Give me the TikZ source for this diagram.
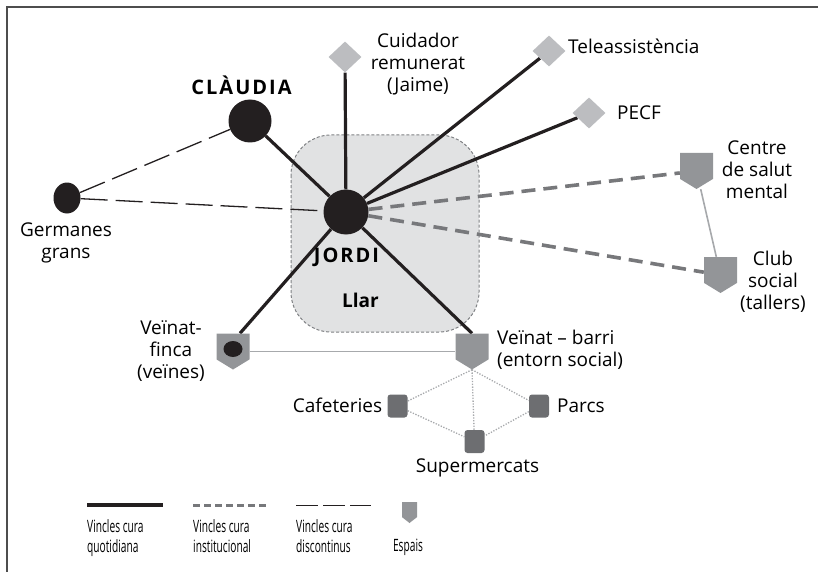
\documentclass[tikz,border=0pt]{standalone}
\usepackage{fontspec}
\setmainfont{Open Sans}
\newfontfamily\legendfont[FakeStretch=0.6]{Open Sans}
\newfontfamily\namefont[LetterSpace=10]{Open Sans}
\usetikzlibrary{shapes.geometric,calc}
\pgfdeclarelayer{bg}
\pgfdeclarelayer{links}
\pgfsetlayers{bg,links,main}

\definecolor{framegray}{HTML}{4D4D4D}
\definecolor{svcgray}{HTML}{BCBDC0}
\definecolor{espaigray}{HTML}{939598}
\definecolor{loccgray}{HTML}{6D6E71}
\definecolor{llarfill}{HTML}{E1E2E3}
\definecolor{llarline}{HTML}{808285}
\definecolor{instgray}{HTML}{77787B}
\definecolor{thingray}{HTML}{A7A9AC}
\definecolor{nodeblack}{HTML}{231F20}

\tikzset{
  person/.style={circle, fill=nodeblack, inner sep=0pt},
  svc/.style={diamond, fill=svcgray, inner sep=0pt, minimum width=33pt, minimum height=31pt},
  espai/.style={rectangle, inner sep=0pt, minimum width=33pt, minimum height=36pt,
    path picture={\fill[espaigray]
      (path picture bounding box.north west) -- (path picture bounding box.north east)
      -- ($(path picture bounding box.south east)!0.28!(path picture bounding box.north east)$)
      -- (path picture bounding box.south)
      -- ($(path picture bounding box.south west)!0.28!(path picture bounding box.north west)$)
      -- cycle;}},
  lloc/.style={rectangle, rounded corners=3pt, fill=loccgray, inner sep=0pt, minimum width=20pt, minimum height=23pt},
  lbl/.style={inner sep=0pt, align=center},
  daily/.style={draw=nodeblack, line width=3.2pt},
  inst/.style={draw=instgray, line width=3.6pt, dash pattern=on 14pt off 8pt},
  disc/.style={draw=nodeblack, line width=1.3pt, dash pattern=on 27pt off 8pt},
  tie/.style={draw=thingray, line width=1.6pt},
  near/.style={draw=thingray, line width=1.3pt, dash pattern=on 1.3pt off 1.5pt},
  legtext/.style={inner sep=0pt, align=left, font=\legendfont\fontsize{17}{20}\selectfont},
}

\begin{document}
\begin{tikzpicture}[x=1pt, y=-1pt, font=\fontsize{19}{22}\selectfont]
\useasboundingbox (0,0) rectangle (818,572);

% frame
\draw[framegray, line width=2pt] (6.5,572) -- (6.5,7) -- (818,7);

% household area
\begin{pgfonlayer}{bg}
  \draw[llarline, fill=llarfill, line width=1pt, dash pattern=on 3pt off 2pt, rounded corners=40pt]
    (291,135) rectangle (479,332);
\end{pgfonlayer}

% people
\node[person, minimum size=45pt] (jordi) at (346,212) {};
\node[person, minimum size=43pt] (claudia) at (250,121) {};
\node[person, ellipse, minimum width=27pt, minimum height=31pt] (germanes) at (67,198) {};

% services
\node[svc] (cuid) at (345,57) {};
\node[svc] (tele) at (549,51) {};
\node[svc] (pecf) at (589,113) {};

% spaces
\node[espai] (csm) at (696.5,171) {};
\node[espai] (club) at (720.5,275) {};
\node[espai] (vf) at (233,351.5) {};
\node[espai] (vb) at (472,351.5) {};
\node[person, ellipse, minimum width=19pt, minimum height=16pt] (vfdot) at (233,349) {};

% neighbourhood places
\node[lloc] (caf) at (397.5,406) {};
\node[lloc] (parcs) at (539,406) {};
\node[lloc] (super) at (474.5,441.5) {};

% labels
\node[lbl] at (241.5,85) {\namefont\bfseries\fontsize{20}{22}\selectfont CLÀUDIA};
\node[lbl] at (346.5,257) {\namefont\bfseries\fontsize{20}{22}\selectfont JORDI};
\node[lbl] at (360.5,300) {\bfseries Llar};
\node[lbl] at (66,243) {Germanes\\grans};
\node[lbl] at (418,64) {Cuidador\\remunerat\\(Jaime)};
\node[lbl, anchor=west] at (568,46) {Teleassistència};
\node[lbl, anchor=west] at (617,113) {PECF};
\node[lbl] at (757,170) {Centre\\de salut\\mental};
\node[lbl] at (773,282) {Club\\social\\(tallers)};
\node[lbl] at (171,351) {Veïnat-\\finca\\(veïnes)};
\node[lbl, anchor=west, align=left] at (497,350) {Veïnat – barri\\(entorn social)};
\node[lbl] at (337.5,405) {Cafeteries};
\node[lbl, anchor=west] at (557,406) {Parcs};
\node[lbl] at (477.5,468) {Supermercats};

% links
\coordinate (vftop) at ($(vf.north)+(7,0)$);
\begin{pgfonlayer}{links}
  \draw[daily] (jordi) -- (claudia);
  \draw[daily] (jordi) -- (cuid);
  \draw[daily] (jordi) -- (tele);
  \draw[daily] (jordi) -- (pecf);
  \draw[daily] (jordi) -- (vftop);
  \draw[daily] (jordi) -- (vb.north);
  \draw[inst] (jordi) -- (csm);
  \draw[inst] (jordi) -- (club);
  \draw[disc] (germanes) -- (claudia);
  \draw[disc] (germanes) -- (jordi);
  \draw[tie] (csm) -- (club);
  \draw[tie] (vf) -- (vb);
  \draw[near] (vb.south) -- (caf);
  \draw[near] (vb.south) -- (parcs);
  \draw[near] (vb.south) -- (super);
  \draw[near] (caf) -- (super);
  \draw[near] (parcs) -- (super);
\end{pgfonlayer}

% legend
\coordinate (la1) at (87,505);  \coordinate (lb1) at (163,505);
\coordinate (la2) at (193,505); \coordinate (lb2) at (269,505);
\coordinate (la3) at (296,505); \coordinate (lb3) at (371,505);
\draw[daily] (la1) -- (lb1);
\draw[draw=instgray, line width=3pt, dash pattern=on 7pt off 4pt] (la2) -- (lb2);
\draw[draw=nodeblack, line width=1pt, dash pattern=on 22pt off 5pt] (la3) -- (lb3);
\node[espai, minimum width=15pt, minimum height=21pt] (lesp) at (409.5,512.5) {};
\node[legtext, anchor=north west] at (87,519) {Vincles cura\\quotidiana};
\node[legtext, anchor=north west] at (193,519) {Vincles cura\\institucional};
\node[legtext, anchor=north west] at (296,519) {Vincles cura\\discontinus};
\node[legtext] at (408,547) {Espais};
\end{tikzpicture}
\end{document}
